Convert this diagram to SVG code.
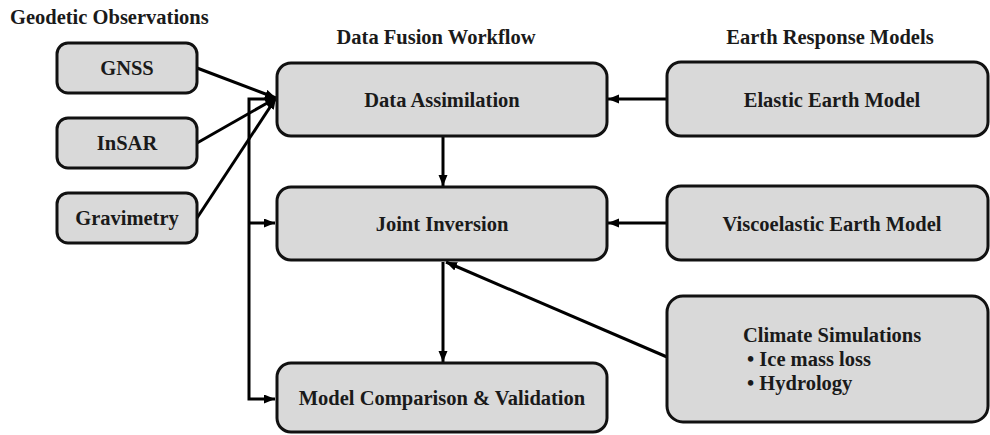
<svg xmlns="http://www.w3.org/2000/svg" width="990" height="435" viewBox="0 0 990 435">
<style>
.box{fill:#d9d9d9;stroke:#111;stroke-width:3}
text{font-family:'Liberation Serif','Tinos','Times New Roman',Times,'DejaVu Serif',serif;font-weight:700;font-size:20.5px;fill:#1a1a1a}
.c{text-anchor:middle}
.ln{fill:none;stroke:#000;stroke-width:3}
</style>
<defs>
<marker id="ah" markerUnits="userSpaceOnUse" markerWidth="12" markerHeight="10" refX="11" refY="4.5" orient="auto">
<path d="M0,0 L11,4.5 L0,9 z" fill="#000"/>
</marker>
</defs>
<rect width="990" height="435" fill="#fff"/>
<text x="10" y="24">Geodetic Observations</text>
<text class="c" x="436" y="44">Data Fusion Workflow</text>
<text class="c" x="830" y="44">Earth Response Models</text>

<g id="connectors">
<line class="ln" x1="197" y1="68" x2="276" y2="98" marker-end="url(#ah)"/>
<line class="ln" x1="197" y1="143" x2="276" y2="98" marker-end="url(#ah)"/>
<line class="ln" x1="197" y1="218" x2="276" y2="98" marker-end="url(#ah)"/>
<path class="ln" d="M276,99 H249 V399 H275" marker-end="url(#ah)"/>
<path class="ln" d="M249,223 H275" marker-end="url(#ah)"/>
<path class="ln" d="M443,137 V186" marker-end="url(#ah)"/>
<path class="ln" d="M443,262 V362" marker-end="url(#ah)"/>
<path class="ln" d="M667,99 H608" marker-end="url(#ah)"/>
<path class="ln" d="M667,223 H608" marker-end="url(#ah)"/>
<path class="ln" d="M667,357 L446,262" marker-end="url(#ah)"/>
</g>

<g id="gnss"><rect class="box" x="57" y="43" width="140" height="50" rx="11"/><text class="c" x="127" y="75">GNSS</text></g>
<g id="insar"><rect class="box" x="57" y="118" width="140" height="50" rx="11"/><text class="c" x="127" y="150">InSAR</text></g>
<g id="gravimetry"><rect class="box" x="57" y="193" width="140" height="50" rx="11"/><text class="c" x="127" y="225">Gravimetry</text></g>

<g id="data-assimilation"><rect class="box" x="277" y="63" width="330" height="73" rx="14"/><text class="c" x="442" y="107">Data Assimilation</text></g>
<g id="joint-inversion"><rect class="box" x="277" y="187" width="330" height="73" rx="14"/><text class="c" x="442" y="231">Joint Inversion</text></g>
<g id="model-comparison"><rect class="box" x="277" y="363" width="330" height="69" rx="14"/><text class="c" x="442" y="405">Model Comparison &amp; Validation</text></g>

<g id="elastic"><rect class="box" x="667" y="62" width="321" height="74" rx="14"/><text class="c" x="832" y="107">Elastic Earth Model</text></g>
<g id="viscoelastic"><rect class="box" x="667" y="186" width="321" height="74" rx="14"/><text class="c" x="832" y="231">Viscoelastic Earth Model</text></g>
<g id="climate"><rect class="box" x="667" y="296" width="321" height="126" rx="16"/>
<text x="743" y="342">Climate Simulations</text>
<text x="747" y="366">• Ice mass loss</text>
<text x="747" y="390">• Hydrology</text></g>
</svg>
